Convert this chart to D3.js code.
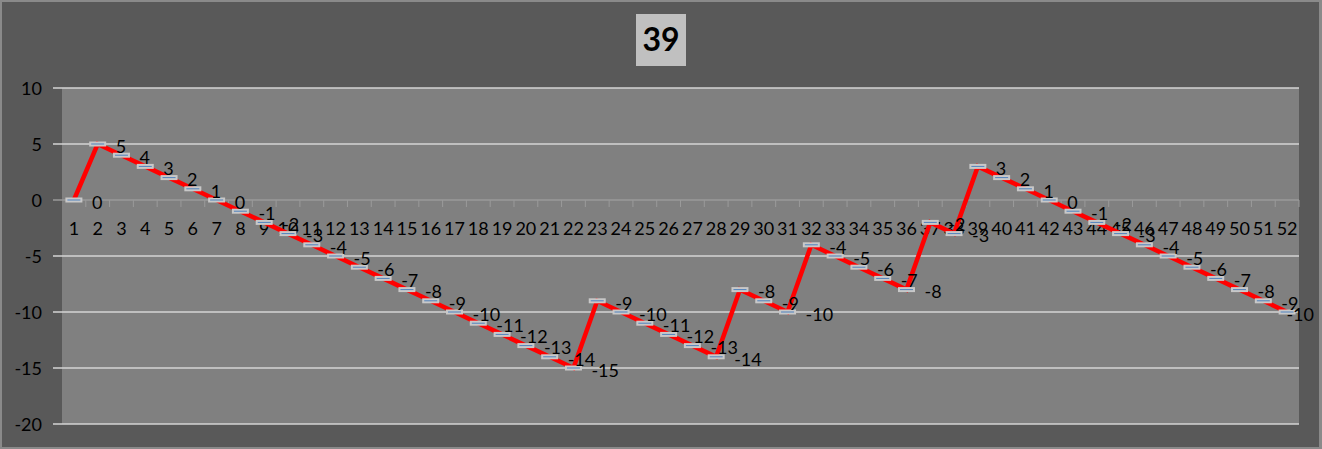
<!DOCTYPE html>
<html>
<head>
<meta charset="utf-8">
<script src="https://cdn.jsdelivr.net/npm/d3@7"></script>
<style>
html,body{margin:0;padding:0;background:#595959;}
svg{display:block;}
text{font-family:Lato, "Open Sans", sans-serif;}
</style>
</head>
<body>
<svg id="chart" width="1322" height="449"></svg>
<script>
const title = "39";
const categories = d3.range(1, 53).map(String);
const values = [0,5,4,3,2,1,0,-1,-2,-3,-4,-5,-6,-7,-8,-9,-10,-11,-12,-13,-14,-15,
  -9,-10,-11,-12,-13,-14,-8,-9,-10,-4,-5,-6,-7,-8,-2,-3,3,2,1,0,-1,-2,-3,-4,-5,-6,-7,-8,-9,-10];
const yTicks = [10,5,0,-5,-10,-15,-20];

const W = 1322, H = 449;
const plot = {left: 62, right: 1299, top: 88, bottom: 424};
const svg = d3.select("#chart");

// frame
svg.append("rect").attr("x",0).attr("y",0).attr("width",W).attr("height",H).attr("fill","#8a8a8a");
svg.append("rect").attr("x",2).attr("y",2).attr("width",W-5).attr("height",H-4).attr("fill","#595959");

// plot area
svg.append("rect").attr("x",plot.left).attr("y",plot.top)
  .attr("width",plot.right-plot.left).attr("height",plot.bottom-plot.top).attr("fill","#808080");

const x = d3.scaleBand().domain(categories).range([plot.left, plot.right]).paddingInner(0).paddingOuter(0);
const y = d3.scaleLinear().domain([-20,10]).range([plot.bottom, plot.top]);

// gridlines + y ticks
const grid = svg.append("g");
yTicks.forEach(t => {
  grid.append("line")
    .attr("x1", plot.left-9).attr("x2", plot.right)
    .attr("y1", y(t)).attr("y2", y(t))
    .attr("stroke", t === 0 ? "#9a9a9a" : "#d4d4d4").attr("stroke-width", 1.3);
});
// y labels
svg.append("g").selectAll("text").data(yTicks).join("text")
  .attr("x", 42).attr("y", d => y(d) + 1).attr("dy","0.35em")
  .attr("text-anchor","end").attr("font-size",18).attr("fill","#000")
  .text(d => d);

// category axis at zero
const zy = y(0);
const cats = svg.append("g");
categories.forEach((c,i) => {
  const bx = x(c);
  if (i > 0) {
    cats.append("line").attr("x1",bx).attr("x2",bx).attr("y1",zy).attr("y2",zy+7)
      .attr("stroke","#9a9a9a").attr("stroke-width",1);
  }
});
cats.append("line").attr("x1",plot.right).attr("x2",plot.right).attr("y1",zy).attr("y2",zy+7)
  .attr("stroke","#9a9a9a").attr("stroke-width",1);
cats.selectAll("text").data(categories).join("text")
  .attr("x", d => x(d) + x.bandwidth()/2).attr("y", zy + 28.5).attr("dy","0.35em")
  .attr("text-anchor","middle").attr("font-size",18).attr("fill","#000")
  .text(d => d);

// line
const cx = (d,i) => x(categories[i]) + x.bandwidth()/2;
const line = d3.line().x((d,i) => cx(d,i)).y(d => y(d));
svg.append("path").datum(values).attr("d", line)
  .attr("fill","none").attr("stroke","#ff0000").attr("stroke-width",4.5)
  .attr("stroke-linejoin","miter");

// markers
svg.append("g").selectAll("rect").data(values).join("rect")
  .attr("x", (d,i) => cx(d,i) - 7.5).attr("y", d => y(d) - 1.5)
  .attr("width", 15).attr("height", 3)
  .attr("fill","#4f81bd").attr("stroke","#c8c8c8").attr("stroke-width",2);

// data labels
svg.append("g").selectAll("text").data(values).join("text")
  .attr("y", d => y(d) + 2.5).attr("dy","0.35em")
  .attr("text-anchor","start").attr("font-size",18).attr("fill","#000")
  .text(d => d)
  .each(function(d,i){
    const w = this.getComputedTextLength();
    let tx = cx(d,i) + 18;
    if (tx + w > W - 8) tx = W - 8 - w;
    d3.select(this).attr("x", tx);
  });

// title
svg.append("rect").attr("x",636).attr("y",14).attr("width",50).attr("height",52).attr("fill","#c0c0c0");
svg.append("text").attr("x",661).attr("y",40).attr("dy","0.35em")
  .attr("text-anchor","middle").attr("font-size",32).attr("font-weight","bold").attr("fill","#000")
  .text(title);
</script>
</body>
</html>
